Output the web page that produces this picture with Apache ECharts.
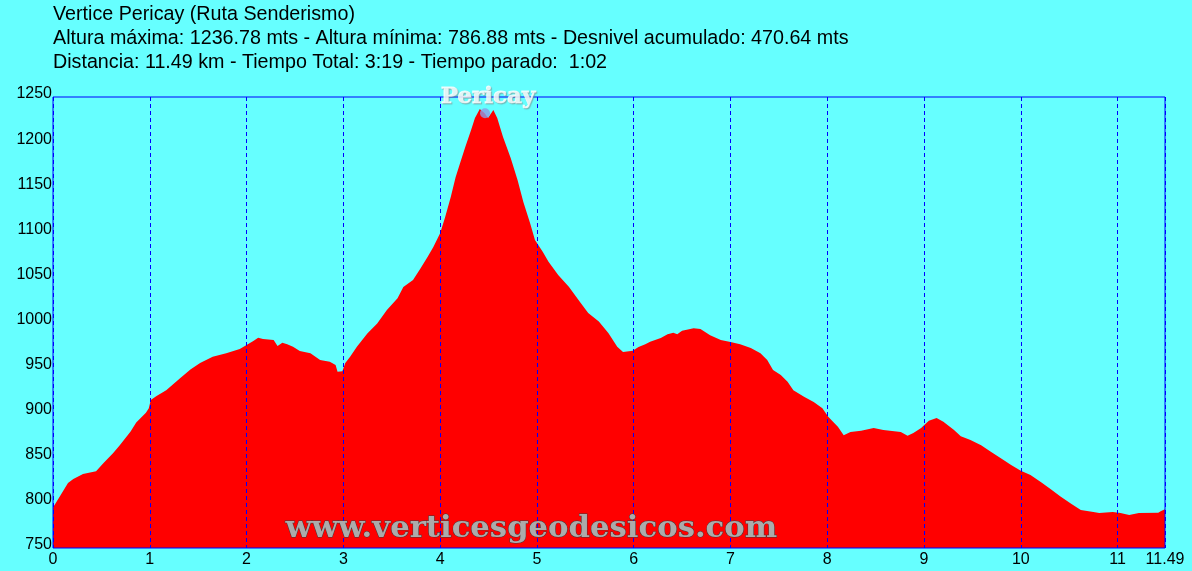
<!DOCTYPE html>
<html>
<head>
<meta charset="utf-8">
<script src="https://cdn.jsdelivr.net/npm/echarts@6/dist/echarts.min.js"></script>
<style>
html,body{margin:0;padding:0;background:#66ffff;}
#c{width:1192px;height:571px;}
</style>
</head>
<body>
<div id="c"></div>
<script>
const titleLines = [
  "Vertice Pericay (Ruta Senderismo)",
  "Altura máxima: 1236.78 mts - Altura mínima: 786.88 mts - Desnivel acumulado: 470.64 mts",
  "Distancia: 11.49 km - Tiempo Total: 3:19 - Tiempo parado:  1:02"
];
const distKm = [0.00,0.07,0.155,0.21,0.31,0.445,0.52,0.62,0.69,0.80,0.86,0.96,0.99,1.01,1.07,1.17,1.31,1.42,1.52,1.65,1.79,1.93,2.00,2.07,2.12,2.17,2.28,2.32,2.37,2.42,2.48,2.55,2.66,2.76,2.86,2.92,2.94,2.99,3.02,3.07,3.14,3.25,3.35,3.45,3.56,3.62,3.72,3.80,3.87,3.93,4.00,4.05,4.11,4.16,4.21,4.26,4.32,4.36,4.41,4.46,4.495,4.55,4.59,4.65,4.73,4.80,4.86,4.93,4.98,5.06,5.12,5.22,5.33,5.43,5.53,5.64,5.74,5.83,5.89,5.99,6.05,6.12,6.17,6.28,6.35,6.41,6.45,6.50,6.62,6.69,6.79,6.90,7.00,7.10,7.21,7.31,7.38,7.44,7.52,7.59,7.65,7.76,7.86,7.95,8.01,8.11,8.17,8.24,8.35,8.48,8.58,8.76,8.83,8.89,8.97,9.05,9.13,9.20,9.31,9.38,9.48,9.59,9.69,9.79,9.90,10.00,10.10,10.21,10.31,10.41,10.52,10.62,10.75,10.81,10.95,11.03,11.12,11.22,11.42,11.45,11.49];
const altM = [795,807,822,826.5,832,835,844,855,864,879,889,900,905,914,918.5,925,938,948,955,962,966,970.6,975,979.5,983,981.6,980.6,974,977.6,976,973,968.4,966,958.4,956.5,953,945.5,946,955,962,973,988,999,1013.8,1027,1039.4,1047,1060.4,1072.6,1083.7,1099,1116,1139,1161,1178,1194.6,1213.4,1226.7,1236.8,1232,1226.7,1235.6,1226.7,1205.7,1182,1158,1133.6,1110,1091.5,1078.5,1067.4,1052.7,1039.7,1025,1010.5,1001,988,973,967.3,968.7,972.8,976,978.7,982.8,987,988.7,987,990.9,993.5,992.8,986,980.6,978.4,976,971.7,966,958.4,947.4,941.8,934.4,925,917.7,912,905,895.6,884.5,875,878.6,880,883,880.8,878.6,874.5,877.5,883,891,894,890,880.8,874,869.7,864,856.8,849.8,842,835.7,831,823,815,807,799,792,790,788.8,790,788.8,786.6,788.8,789,791,793];
const peakName = "Pericay";
const peakPoint = [4.464, 1232];
const xMin = 0, xMax = 11.49, xStep = 1;
const yMin = 750, yMax = 1250, yStep = 50;
const watermark = "www.verticesgeodesicos.com";

const chart = echarts.init(document.getElementById('c'), null, {renderer:'canvas'});
const profile = distKm.map((d,i)=>[d, altM[i]]);
const sans = '"Liberation Sans", Arial, sans-serif';
chart.setOption({
  backgroundColor:'#66ffff',
  animation:false,
  title:{
    text: titleLines.join('\n'),
    left:53, top:3, padding:0,
    textStyle:{fontFamily:sans, fontSize:19.7, fontWeight:'normal', color:'#000', lineHeight:24}
  },
  grid:{left:53, top:97, right:27, bottom:23, show:true, z:5, backgroundColor:'transparent', borderColor:'#0000ff', borderWidth:1},
  xAxis:{
    type:'value', min:xMin, max:xMax, interval:xStep, z:4,
    axisLine:{show:false}, axisTick:{show:false},
    splitLine:{show:true, lineStyle:{color:'#0000ff', type:[4,3], width:1}},
    axisLabel:{color:'#000', fontSize:16, fontFamily:sans, margin:4, showMaxLabel:true, showMinLabel:true,
      formatter:(v)=>String(v)}
  },
  yAxis:{
    type:'value', min:yMin, max:yMax, interval:yStep,
    axisLine:{show:false}, axisTick:{show:false}, splitLine:{show:false},
    axisLabel:{color:'#000', fontSize:16, fontFamily:sans, margin:1, verticalAlign:'bottom', lineHeight:6,
      formatter:(v)=>String(v)}
  },
  series:[
    {type:'line', data:profile, symbol:'none', smooth:false, z:2,
     lineStyle:{width:0, color:'#ff0000'},
     areaStyle:{color:'#ff0000', opacity:1, origin:'start'}},
    {type:'scatter', data:[peakPoint], symbol:'circle', symbolSize:10, z:6,
     itemStyle:{color:'#8c9be6'},
     label:{show:true, formatter:peakName, position:'top', distance:0, offset:[3,0],
       color:'#ffffff', fontFamily:'"DejaVu Serif", serif', fontWeight:'bold', fontSize:23,
       textBorderColor:'#ffffff', textBorderWidth:0.8,
       textShadowColor:'rgba(120,120,120,0.5)', textShadowBlur:1, textShadowOffsetX:1, textShadowOffsetY:1}}
  ],
  graphic:[
    {type:'text', left:285, top:513, z:10,
     style:{text:watermark, font:'bold 30.7px "DejaVu Serif", serif',
       fill:'#ababab',
       stroke:'#3c3c3c', lineWidth:0.9,
       shadowColor:'rgba(20,0,0,0.9)', shadowBlur:2, shadowOffsetX:2, shadowOffsetY:2}}
  ]
});
</script>
</body>
</html>
